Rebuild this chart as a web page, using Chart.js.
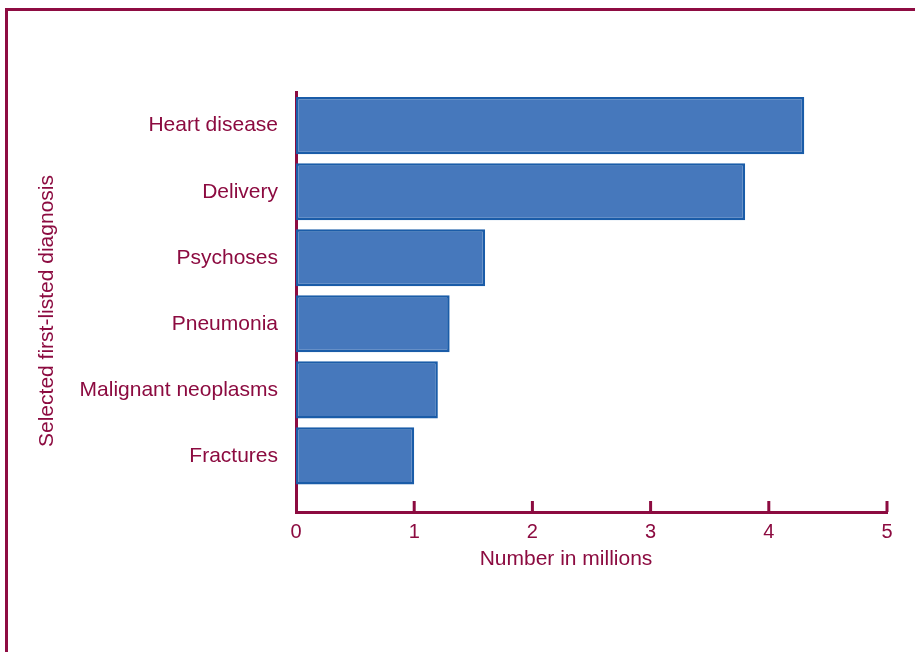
<!DOCTYPE html>
<html>
<head>
<meta charset="utf-8">
<script src="https://cdn.jsdelivr.net/npm/chart.js@4.4.0/dist/chart.umd.min.js"></script>
<style>
  html, body { margin: 0; padding: 0; background: #fff; overflow: hidden; }
  #wrap { position: relative; width: 915px; height: 652px; }
  #frame {
    position: absolute; left: 5px; top: 8px; width: 1000px; height: 641px;
    border-left: 3px solid #8e0c42; border-top: 3px solid #8e0c42;
    border-bottom: 1px solid #e8dfe3;
  }
  #chart { position: absolute; left: 0; top: 0; }
</style>
</head>
<body>
<div id="wrap">
  <div id="frame"></div>
  <canvas id="chart" width="915" height="652"></canvas>
</div>
<script>
const diagnoses = ['Heart disease', 'Delivery', 'Psychoses', 'Pneumonia', 'Malignant neoplasms', 'Fractures']
const millions = [4.3, 3.8, 1.6, 1.3, 1.2, 1.0]
const xTicks = [0, 1, 2, 3, 4, 5]

const maroon = '#8c0b40'
const font = '"Liberation Sans", Arial, sans-serif'

// ticks on the x axis point up into the plot, plus the two axis titles
const axisExtras = {
  id: 'axisExtras',
  afterDraw(chart) {
    const ctx = chart.ctx
    const x = chart.scales.x
    const area = chart.chartArea
    ctx.save()
    ctx.strokeStyle = maroon
    ctx.lineWidth = 3
    xTicks.forEach(t => {
      if (t === 0) return
      const px = x.getPixelForValue(t)
      ctx.beginPath()
      ctx.moveTo(px, area.bottom)
      ctx.lineTo(px, area.bottom - 11)
      ctx.stroke()
    })
    ctx.fillStyle = maroon
    ctx.font = '21px ' + font
    ctx.textAlign = 'center'
    ctx.textBaseline = 'middle'
    ctx.fillText('Number in millions', 566, 559)
    ctx.translate(47, 311)
    ctx.rotate(-Math.PI / 2)
    ctx.fillText('Selected first-listed diagnosis', 0, 0)
    ctx.restore()
  }
}

const barChart = new Chart(document.getElementById('chart'), {
  type: 'bar',
  data: {
    datasets: [{
      data: millions.map((v, i) => ({ x: v, y: i })),
      backgroundColor: '#4678bc',
      borderColor: '#1a5ca8',
      borderWidth: 2.5,
      borderSkipped: false,
      barPercentage: 0.865,
      categoryPercentage: 1
    }]
  },
  options: {
    indexAxis: 'y',
    responsive: false,
    animation: false,
    layout: { padding: { top: 92, right: 28, left: 0, bottom: 0 } },
    plugins: { legend: { display: false }, tooltip: { enabled: false } },
    scales: {
      x: {
        type: 'linear',
        min: 0,
        max: 5,
        offset: false,
        afterBuildTicks: s => { s.ticks = xTicks.map(v => ({ value: v })) },
        afterFit: s => { s.height = 140 },
        grid: { display: false },
        border: { color: maroon, width: 3 },
        ticks: { color: maroon, font: { family: font, size: 20 }, padding: 0 }
      },
      y: {
        type: 'linear',
        reverse: true,
        offset: false,
        min: -0.51,
        max: 5.85,
        afterBuildTicks: s => { s.ticks = diagnoses.map((d, i) => ({ value: i })) },
        afterFit: s => { s.width = 296 },
        grid: { display: false },
        border: { color: maroon, width: 3 },
        ticks: {
          color: maroon,
          font: { family: font, size: 21 },
          padding: 10,
          callback: v => diagnoses[v]
        }
      }
    }
  },
  plugins: [axisExtras]
})
</script>
</body>
</html>
